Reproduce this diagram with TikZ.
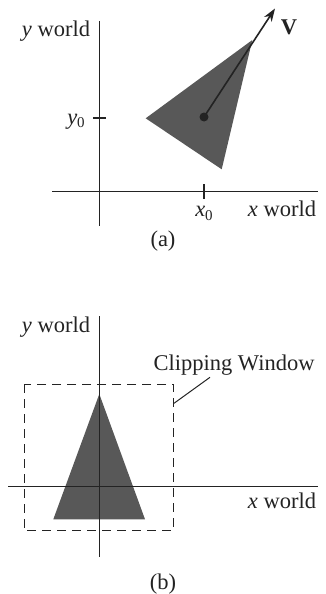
\documentclass[tikz,border=0pt]{standalone}
\usepackage{fontspec}
\setmainfont{Liberation Serif}
\usetikzlibrary{arrows.meta,positioning}
\definecolor{inkgray}{RGB}{35,35,35}
\definecolor{shadegray}{RGB}{88,88,88}
\newcommand{\lowsub}[1]{\raisebox{-0.35ex}{\fontsize{15}{15}\selectfont #1}}

\begin{document}
\begin{tikzpicture}[x=1pt,y=-1pt,
		every node/.style={font=\fontsize{22.5}{26}\selectfont, text=inkgray, inner sep=0pt},
		axis/.style={draw=inkgray, line width=1.2pt},
		shape fill/.style={fill=shadegray, draw=none},
		clipbox/.style={draw=inkgray, line width=1pt, dash pattern=on 9pt off 6pt}]
	\useasboundingbox (0,0) rectangle (326,594);
	% (a) the object in world coordinates
	\coordinate (a-ytop) at (99.3,21);
	\coordinate (a-ybot) at (99.3,226);
	\coordinate (a-xleft) at (52,191.7);
	\coordinate (a-xright) at (318,191.7);
	\coordinate (p1) at (145.7,118.3);
	\coordinate (p2) at (252.3,40);
	\coordinate (p3) at (221.7,169.3);
	\fill[shape fill] (p1) -- (p2) -- (p3) -- cycle;
	\draw[axis] (a-ytop) -- (a-ybot);
	\draw[axis] (a-xleft) -- (a-xright);
	\coordinate (y0-l) at (93,118);
	\coordinate (y0-r) at (106,118);
	\coordinate (x0-t) at (204,184);
	\coordinate (x0-b) at (204,199);
	\draw[axis] (y0-l) -- (y0-r);
	\draw[axis] (x0-t) -- (x0-b);
	\node[circle, fill=inkgray, minimum size=9pt] (dot) at (204,117) {};
	\coordinate (vtip) at (275,8.5);
	\draw[axis, line width=1.6pt, -{Stealth[length=13pt,width=9pt,inset=4pt]}] (dot.center) -- (vtip);
	\node[anchor=base] (ylab-a) at (56,37) {\textit{y} world};
	\node[anchor=base] (xlab-a) at (282,216) {\textit{x} world};
	\node[anchor=base] (y0) at (76,124) {\textit{y}\lowsub{0}};
	\node[anchor=base] (x0) at (204,216.5) {\textit{x}\lowsub{0}};
	\node[anchor=base] (vlab) at (289,35) {\textbf{V}};
	\node[anchor=base] (cap-a) at (163,246) {(a)};
	% (b) the object moved to the origin
	\coordinate (q1) at (99.3,394);
	\coordinate (q2) at (53.3,519.3);
	\coordinate (q3) at (145,519.3);
	\fill[shape fill] (q1) -- (q2) -- (q3) -- cycle;
	\coordinate (b-ytop) at (99.3,316);
	\coordinate (b-ybot) at (99.3,556.7);
	\coordinate (b-xleft) at (8.3,486.7);
	\coordinate (b-xright) at (318,486.7);
	\draw[axis] (b-ytop) -- (b-ybot);
	\draw[axis] (b-xleft) -- (b-xright);
	\coordinate (win-nw) at (24,384);
	\coordinate (win-se) at (173.3,530.7);
	\draw[clipbox] (win-nw) rectangle (win-se);
	\node[anchor=base] (cliplab) at (234,370) {Clipping Window};
	\coordinate (lead-a) at (210,377.3);
	\coordinate (lead-b) at (174,403.3);
	\draw[axis, line width=1pt] (lead-a) -- (lead-b);
	\node[anchor=base] (ylab-b) at (56,332.7) {\textit{y} world};
	\node[anchor=base] (xlab-b) at (282,508.3) {\textit{x} world};
	\node[anchor=base] (cap-b) at (163,589) {(b)};
\end{tikzpicture}
\end{document}
